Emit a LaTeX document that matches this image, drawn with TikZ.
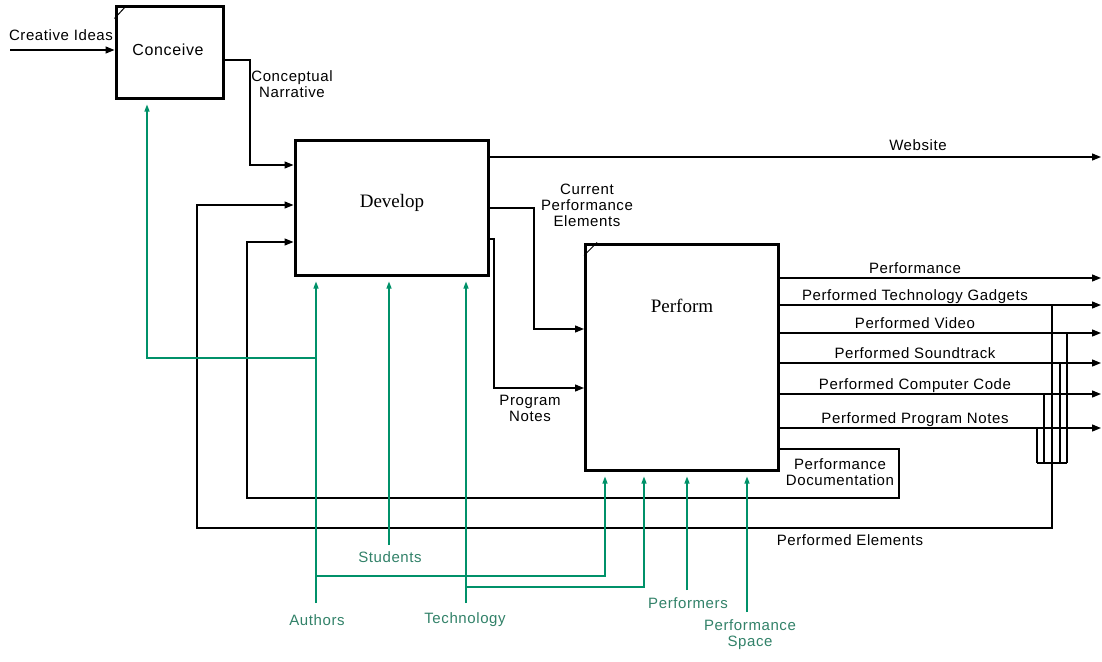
\documentclass[tikz,border=0pt]{standalone}
\usepackage{fontspec}
\setmainfont{Liberation Serif}
\setsansfont{Liberation Sans}[LetterSpace=4]
\usetikzlibrary{arrows.meta}
\definecolor{gr}{RGB}{0,145,105}
\definecolor{grtext}{RGB}{50,130,105}
\tikzset{
  box/.style={draw, line width=3pt, minimum width=#1, inner sep=0pt},
  lab/.style={font=\sffamily\fontsize{15}{16}\selectfont, align=center, inner sep=0pt},
  glab/.style={lab, text=grtext},
  conn/.style={line width=1.3pt, -{Triangle[length=9pt,width=7pt]}},
  line/.style={line width=1.3pt},
  gconn/.style={line width=1.2pt, gr, -{Triangle[length=7pt,width=5pt]}, shorten >=5pt},
}
\begin{document}
\begin{tikzpicture}[x=1pt,y=-1pt]
\useasboundingbox[fill=white] (0,0) rectangle (1102,661);
% boxes
\node[box=107pt, minimum height=91pt] (conceive) at (169.5,52.5) {};
\node[font=\sffamily\fontsize{16}{18}\selectfont] (conceivet) at (168,50) {Conceive};
\node[box=193pt, minimum height=135pt] (develop) at (391.5,207.5) {};
\node[font=\fontsize{19}{21}\selectfont] (developt) at (392,203) {Develop};
\node[box=193pt, minimum height=226pt] (perform) at (682,357) {};
\node[font=\fontsize{19}{21}\selectfont] (performt) at (682,306) {Perform};
% corner marks
\draw[line width=1pt] ([yshift=-13pt]conceive.north west) -- ([xshift=12pt]conceive.north west);
\draw[line width=1pt] ([yshift=-13pt]perform.north west) -- ([xshift=13pt]perform.north west);

% Creative Ideas
\coordinate (ci) at (10,50);
\draw[conn] (ci) -- (ci -| conceive.west);
\node[lab] (cil) at (61,35) {Creative Ideas};

% Conceptual Narrative
\coordinate (cn1) at (223,60);
\coordinate (cn2) at (250,60);
\coordinate (cn3) at (250,165);
\draw[conn] (cn1 -| conceive.east) -- (cn2) -- (cn3) -- (cn3 -| develop.west);
\node[lab] (cnl) at (292,84) {Conceptual\\Narrative};

% Website
\coordinate (ws) at (488,157);
\coordinate (wse) at (1101,157);
\draw[conn] (ws -| develop.east) -- (wse);
\node[lab] (wsl) at (918,145) {Website};

% Current Performance Elements
\coordinate (cp1) at (488,208);
\coordinate (cp2) at (534,208);
\coordinate (cp3) at (534,329);
\draw[conn] (cp1 -| develop.east) -- (cp2) -- (cp3) -- (cp3 -| perform.west);
\node[lab] (cpl) at (587,205) {Current\\Performance\\Elements};

% Program Notes
\coordinate (pn1) at (488,239);
\coordinate (pn2) at (494,239);
\coordinate (pn3) at (494,388);
\draw[conn] (pn1 -| develop.east) -- (pn2) -- (pn3) -- (pn3 -| perform.west);
\node[lab] (pnl) at (530,408) {Program\\Notes};

% Perform outputs
\foreach \n/\y/\t in {o1/278/Performance, o2/305/Performed Technology Gadgets, o3/333/Performed Video, o4/363/Performed Soundtrack, o5/394/Performed Computer Code, o6/428/Performed Program Notes}{
  \coordinate (\n) at (1101,\y);
  \draw[conn] (\n -| perform.east) -- (\n);
  \node[lab, anchor=base] (\n l) at ([yshift=5pt]915,\y) {\t};
}

% join lines
\coordinate (jb) at (1037,463);
\coordinate (je) at (1067,463);
\draw[line] (jb) -- (je);
\draw[line] (o3 -| je) -- (je);
\draw[line] (o4 -| 1060,0) -- (1060,463);
\draw[line] (o5 -| 1044,0) -- (1044,463);
\draw[line] (o6 -| jb) -- (jb);

% Performed Elements feedback
\coordinate (pe1) at (1052,305);
\coordinate (pe2) at (1052,528);
\coordinate (pe3) at (197,528);
\coordinate (pe4) at (197,205);
\draw[conn] (pe1) -- (pe2) -- (pe3) -- (pe4) -- (pe4 -| develop.west);
\node[lab] (pel) at (850,540) {Performed Elements};

% Performance Documentation feedback
\coordinate (pd1) at (779,449);
\coordinate (pd2) at (899,449);
\coordinate (pd3) at (899,498);
\coordinate (pd4) at (247,498);
\coordinate (pd5) at (247,242);
\draw[conn] (pd1 -| perform.east) -- (pd2) -- (pd3) -- (pd4) -- (pd5) -- (pd5 -| develop.west);
\node[lab] (pdl) at (840,472) {Performance\\Documentation};

% Green mechanisms
\coordinate (au) at (316,603);
\draw[gconn] (au) -- (au |- develop.south);
\coordinate (au1) at (316,358);
\coordinate (au2) at (147,358);
\draw[gconn] (au1) -- (au2) -- (au2 |- conceive.south);
\coordinate (au3) at (316,576);
\coordinate (au4) at (605,576);
\draw[gconn] (au3) -- (au4) -- (au4 |- perform.south);
\node[glab] (aul) at (317,620) {Authors};

\coordinate (st) at (389,545);
\draw[gconn] (st) -- (st |- develop.south);
\node[glab] (stl) at (390,557) {Students};

\coordinate (te) at (466,603);
\draw[gconn] (te) -- (te |- develop.south);
\coordinate (te1) at (466,587);
\coordinate (te2) at (644,587);
\draw[gconn] (te1) -- (te2) -- (te2 |- perform.south);
\node[glab] (tel) at (465,620) {Technology};

\coordinate (pf) at (687,590);
\draw[gconn] (pf) -- (pf |- perform.south);
\node[glab] (pfl) at (688,603) {Performers};

\coordinate (ps) at (747,612);
\draw[gconn] (ps) -- (ps |- perform.south);
\node[glab] (psl) at (750,635) {Performance\\Space};
\end{tikzpicture}
\end{document}
